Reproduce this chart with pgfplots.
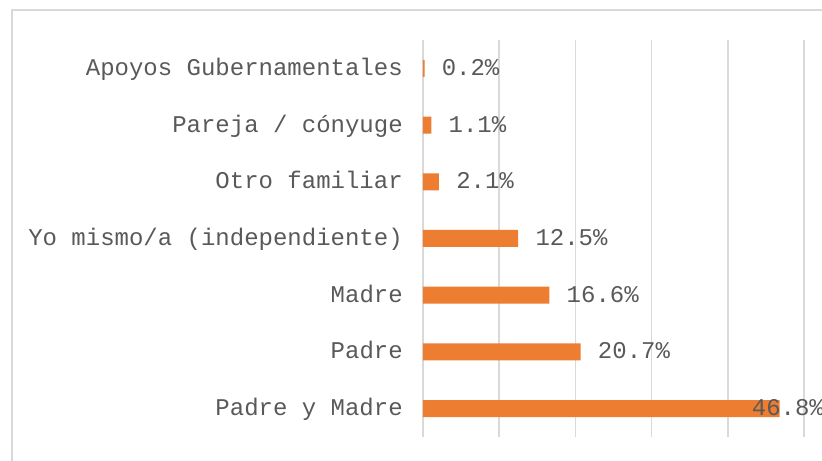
\documentclass[border=0pt]{standalone}
\usepackage{pgfplots}
\pgfplotsset{compat=1.18}
\usepackage{fontspec}
\setmainfont{Liberation Mono}
\definecolor{barorange}{HTML}{ED7D31}
\definecolor{txt}{HTML}{595959}
\definecolor{gridc}{HTML}{D9D9D9}
\begin{document}
\begin{tikzpicture}
\draw[gridc, line width=0.9pt] (-308.25pt,-40pt) rectangle (330pt,320.25pt);
\begin{axis}[
  at={(0,0)}, anchor=south west,
  scale only axis, width=285.75pt, height=297.75pt,
  xmin=0, xmax=50, ymin=-0.5, ymax=6.5,
  xbar, bar width=12.75pt,
  xtick={0,10,20,30,40,50}, xticklabels={},
  xmajorgrids, grid style={gridc, line width=1.2pt},
  ytick={0,1,2,3,4,5,6},
  yticklabels={Padre y Madre, Padre, Madre, Yo mismo/a (independiente), Otro familiar, Pareja / cónyuge, Apoyos Gubernamentales},
  axis line style={draw=none},
  major tick length=0pt,
  yticklabel style={font=\fontsize{18}{20}\selectfont, text=txt, inner sep=0pt, anchor=base east, xshift=-15pt, yshift=-5.25pt},
  nodes near coords={\pgfplotspointmeta\%},
  point meta=explicit symbolic,
  visualization depends on={value \thisrow{sh} \as \labshift},
  every node near coord/.append style={anchor=base west, inner sep=0pt, xshift=\labshift pt, yshift=-5.25pt, font=\fontsize{18}{20}\selectfont, text=txt},
]
\addplot[fill=barorange, draw=none] table[x=v, y=c, meta=lab] {
c v lab sh
0 46.8 46.8 -21
1 20.7 20.7 12.75
2 16.6 16.6 12.75
3 12.5 12.5 12.75
4 2.1 2.1 12.75
5 1.1 1.1 12.75
6 0.2 0.2 12.75
};
\end{axis}
\pgfresetboundingbox
\useasboundingbox (-317.25pt,-18pt) rectangle (299.25pt,327.75pt);
\end{tikzpicture}
\end{document}
